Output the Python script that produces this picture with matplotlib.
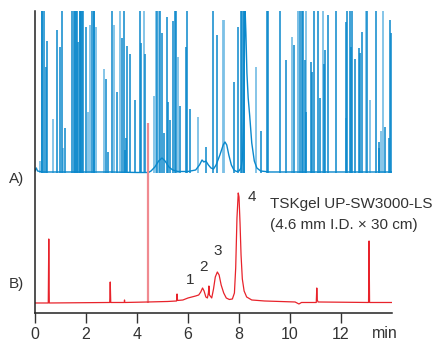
"""
Chromatograms A) and B) on TSKgel UP-SW3000-LS
"""

import matplotlib
matplotlib.use("Agg")
from matplotlib import pyplot as plt

plt.rcParams['font.family'] = ['Liberation Sans', 'DejaVu Sans']

# trace B (red): time (min), signal
b_time = [0, 0.52, 0.54, 0.56, 2.93, 2.95, 2.97, 3.5, 3.51, 3.52, 4.43,
          5.2, 5.55, 5.57, 5.59, 5.8, 6.0, 6.3, 6.42, 6.5, 6.57, 6.63, 6.7, 6.76,
          6.8, 6.82, 6.84, 6.93, 7.0, 7.07, 7.15, 7.22, 7.3, 7.4, 7.5, 7.62, 7.74,
          7.82, 7.87, 7.92, 7.97, 8.0, 8.04, 8.08, 8.13, 8.2, 8.3, 8.5, 9.0, 10.2,
          10.35, 10.45, 11.03, 11.05, 11.07, 11.1, 13.08, 13.1, 13.12, 14.0]
b_signal = [0, 0, 64, 0, 0.5, 21, 0.5, 0.5, 3, 0.5, 1,
            1.5, 2, 9, 2.5, 3, 5, 7, 8, 11, 15, 12, 6, 5,
            10, 17, 8, 5, 14, 26, 31, 28, 18, 10, 5, 3.5, 4,
            10, 35, 85, 110, 106, 80, 48, 24, 12, 6, 3, 2, 1,
            -1, 0.5, 0.5, 15, 3, 1, 0.5, 62, 0.5, 0.5]

# faint tall spike on trace B
b_faint_t = [4.43]
b_faint_h = [180]

# trace A (blue) baseline and broad peaks
a_time = [0, 0.05, 0.1, 0.3, 1.0, 2.0, 3.0, 4.0, 4.45, 4.55, 4.7, 4.85, 4.98, 5.1,
          5.25, 5.4, 5.6, 6.0, 6.3, 6.45, 6.55, 6.62, 6.7, 6.8, 6.9, 7.0, 7.1,
          7.25, 7.38, 7.45, 7.52, 7.6, 7.7, 7.8, 7.9, 8.0, 8.08, 8.14, 8.19, 8.23,
          8.27, 8.31, 8.36, 8.42, 8.5, 8.6, 8.7, 8.85, 9.2, 14.0]
a_signal = [2, 5, 2, 1, 1, 1, 1, 0.5, 0.5, 2, 6, 12, 15, 12,
            6, 3, 1.5, 1.5, 3, 8, 13, 11, 12, 8, 5, 4, 8,
            18, 28, 31, 28, 18, 8, 3, 1.5, 2, 5, 15, 60, 170,
            140, 100, 75, 57, 30, 12, 5, 2, 1, 1]

# spikes on trace A: time (min), height (200 = off scale)
a_spike_t = [0.26, 0.27, 0.35, 0.42, 0.47, 0.86, 0.99, 1.05, 1.18, 1.46, 1.52, 1.57,
             1.60, 1.63, 1.69, 1.75, 1.78, 1.81, 1.84, 1.88, 1.99, 2.24, 2.30, 2.33,
             2.77, 2.88, 3.03, 3.23, 3.40, 3.48, 3.52, 3.58, 3.62, 3.71, 3.91, 4.11,
             4.17, 4.33, 4.78, 4.90, 4.99, 5.06, 5.18, 5.23, 5.31, 5.41, 5.48, 5.54,
             5.67, 5.91, 5.96, 6.09, 6.69, 6.98, 7.14, 7.79, 7.95, 8.08, 8.12, 8.18,
             8.21, 8.88, 9.08, 9.12, 9.60, 9.83, 10.14, 10.38, 10.48, 10.52, 10.58,
             10.64, 10.84, 10.88, 10.93, 11.10, 11.19, 11.32, 11.36, 11.49, 11.82,
             12.18, 12.25, 12.37, 12.40, 12.44, 12.56, 12.71, 12.75, 12.83, 13.0,
             13.36, 13.48, 13.50, 13.71, 13.88, 13.93, 13.98]
a_spike_h = [200, 200, 200, 106, 132, 143, 126, 200, 45, 200, 200, 200,
             200, 200, 131, 200, 200, 200, 200, 200, 146, 200, 200, 200,
             94, 21, 200, 81, 135, 200, 23, 35, 127, 119, 73, 200,
             130, 119, 200, 200, 140, 40, 156, 71, 53, 152, 200, 200,
             67, 126, 200, 64, 26, 200, 138, 91, 146, 200, 200, 200,
             200, 42, 200, 200, 200, 113, 128, 200, 200, 200, 113,
             61, 111, 101, 200, 200, 75, 109, 123, 158, 200,
             151, 200, 200, 126, 200, 114, 125, 120, 141, 200,
             200, 31, 25, 46, 35, 153, 140]

# fainter spikes on trace A
a_light_t = [0.21, 0.69, 1.10, 2.08, 2.16, 2.40, 2.69, 3.08, 3.35, 4.27, 4.65, 4.76,
             4.86, 5.61, 6.39, 7.37, 7.40, 8.68, 10.09, 10.30, 10.33, 10.62, 11.29,
             12.21, 12.98, 13.12, 13.58, 13.65]
a_light_h = [12, 54, 25, 61, 148, 146, 104, 148, 200, 200, 77, 200,
             200, 116, 56, 153, 153, 106, 136, 200, 200, 200, 200,
             55, 200, 73, 42, 200]

a_offset = 130  # trace A drawn above trace B
dark_blue = "#0a88cc"
light_blue = "#7cc0e6"
red = "#e8232b"
light_red = "#f08a90"

fig = plt.figure(figsize=(4.36, 3.49), dpi=100)
ax = fig.add_axes([0.0803, 0.1032, 0.8188, 0.8653])

ax.vlines(a_light_t, a_offset, [a_offset + h for h in a_light_h],
          color=light_blue, linewidth=1.3)
ax.vlines(a_spike_t, a_offset, [a_offset + h for h in a_spike_h],
          color=dark_blue, linewidth=1.1)
ax.plot(a_time, [a_offset + s for s in a_signal], color=dark_blue, linewidth=1.0)
ax.vlines(b_faint_t, 0, b_faint_h, color=light_red, linewidth=1.6)
ax.plot(b_time, b_signal, color=red, linewidth=0.9)

ax.set_xlim(0, 14)
ax.set_ylim(-10, 292)
ax.set_xticks([0, 2, 4, 6, 8, 10, 12])
ax.set_yticks([])
ax.tick_params(axis="x", direction="out", length=7, width=1, pad=3,
               labelsize=11.5, labelcolor="#333333", color="#333333")
for side in ["top", "right"]:
    ax.spines[side].set_visible(False)
for side in ["left", "bottom"]:
    ax.spines[side].set_linewidth(1.1)
    ax.spines[side].set_color("#222222")

txt = dict(color="#333333", fontsize=11)
ax.text(13.7, -23, "min", ha="center", va="top", fontsize=11.5, color="#333333")
ax.text(-0.42, 124, "A)", ha="right", va="center", **txt)
ax.text(-0.42, 19, "B)", ha="right", va="center", **txt)
ax.text(6.1, 23, "1", ha="center", va="center", **txt)
ax.text(6.6, 36, "2", ha="center", va="center", **txt)
ax.text(7.15, 52, "3", ha="center", va="center", **txt)
ax.text(8.5, 106, "4", ha="center", va="center", **txt)
ax.text(9.2, 99, "TSKgel UP-SW3000-LS", ha="left", va="center", **txt)
ax.text(9.2, 78, "(4.6 mm I.D. \u00d7 30 cm)", ha="left", va="center", **txt)

fig.savefig("out.png", dpi=100)
